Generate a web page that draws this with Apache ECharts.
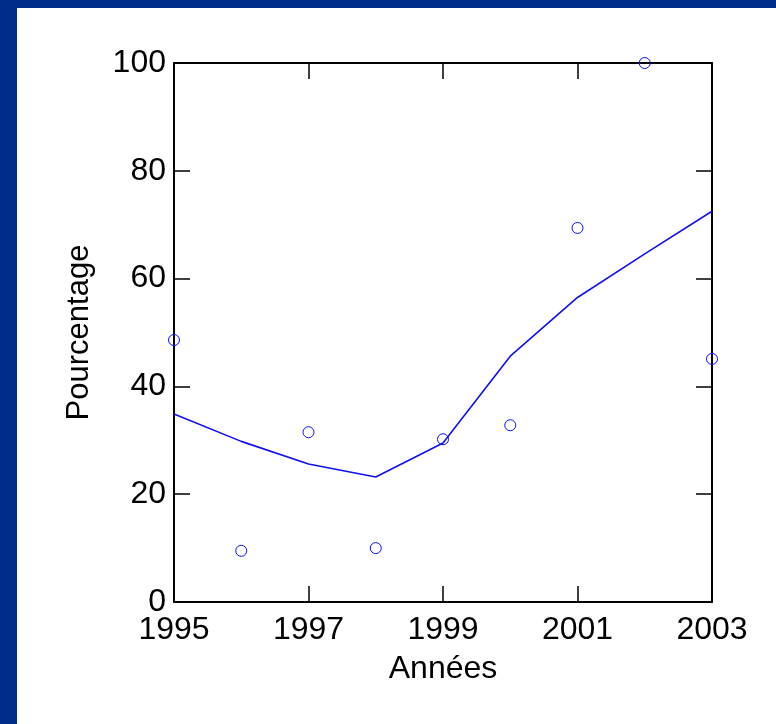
<!DOCTYPE html>
<html>
<head>
<meta charset="utf-8">
<script src="https://cdn.jsdelivr.net/npm/echarts@6/dist/echarts.min.js"></script>
<style>
  html, body { margin: 0; padding: 0; background: #ffffff; }
  #chart { width: 776px; height: 724px; }
</style>
</head>
<body>
<div id="chart"></div>
<script>
// Yearly observations and the fitted trend line
const years = [1995, 1996, 1997, 1998, 1999, 2000, 2001, 2002, 2003];
const observed = [48.6, 9.5, 31.5, 10.0, 30.2, 32.8, 69.4, 100.0, 45.1];
const trend = [34.9, 29.8, 25.6, 23.2, 29.5, 45.6, 56.5, 64.6, 72.5];
const yearTicks = [1995, 1997, 1999, 2001, 2003];

const FONT = '"Liberation Sans", Arial, Helvetica, sans-serif';
const INK = '#000000';
const BLUE = '#1010f0';

const pairs = (xs, ys) => xs.map((x, i) => [x, ys[i]]);

function xAxisCfg(isTop) {
  return {
    type: 'value',
    position: isTop ? 'top' : 'bottom',
    min: 1995,
    max: 2003,
    name: isTop ? '' : 'Années',
    nameLocation: 'middle',
    nameGap: 51,
    nameTextStyle: { fontFamily: FONT, fontSize: 32, color: INK },
    axisLine: { show: true, onZero: false, lineStyle: { color: INK, width: 2 } },
    axisTick: { show: true, inside: true, length: 16, customValues: yearTicks,
                lineStyle: { color: INK, width: 1.5 } },
    axisLabel: { show: !isTop, customValues: yearTicks, margin: 12,
                 fontFamily: FONT, fontSize: 32, color: INK,
                 formatter: v => String(v) },
    splitLine: { show: false }
  };
}

function yAxisCfg(isRight) {
  return {
    type: 'value',
    position: isRight ? 'right' : 'left',
    min: 0,
    max: 100,
    interval: 20,
    name: isRight ? '' : 'Pourcentage',
    nameLocation: 'middle',
    nameGap: 79,
    nameTextStyle: { fontFamily: FONT, fontSize: 31, color: INK },
    axisLine: { show: true, onZero: false, lineStyle: { color: INK, width: 2 } },
    axisTick: { show: true, inside: true, length: 16, lineStyle: { color: INK, width: 1.5 } },
    axisLabel: { show: !isRight, margin: 8, fontFamily: FONT, fontSize: 32, color: INK,
                 formatter: v => String(v) },
    splitLine: { show: false }
  };
}

const chart = echarts.init(document.getElementById('chart'), null, { renderer: 'canvas' });
chart.setOption({
  animation: false,
  backgroundColor: '#ffffff',
  graphic: [
    { type: 'rect', left: 0, top: 0, shape: { width: 776, height: 8 }, style: { fill: '#002d8a' }, silent: true },
    { type: 'rect', left: 0, top: 0, shape: { width: 17, height: 724 }, style: { fill: '#002d8a' }, silent: true }
  ],
  grid: { left: 174, top: 63, width: 538, height: 539, containLabel: false },
  xAxis: [xAxisCfg(false), xAxisCfg(true)],
  yAxis: [yAxisCfg(false), yAxisCfg(true)],
  series: [
    {
      type: 'line',
      xAxisIndex: 0,
      yAxisIndex: 0,
      data: pairs(years, trend),
      showSymbol: false,
      smooth: false,
      lineStyle: { color: BLUE, width: 1.6 },
      z: 3
    },
    {
      type: 'scatter',
      xAxisIndex: 0,
      yAxisIndex: 0,
      data: pairs(years, observed),
      symbol: 'circle',
      symbolSize: 11,
      itemStyle: { color: 'rgba(0,0,0,0)', borderColor: BLUE, borderWidth: 1, opacity: 1 },
      z: 4
    }
  ]
});
</script>
</body>
</html>
